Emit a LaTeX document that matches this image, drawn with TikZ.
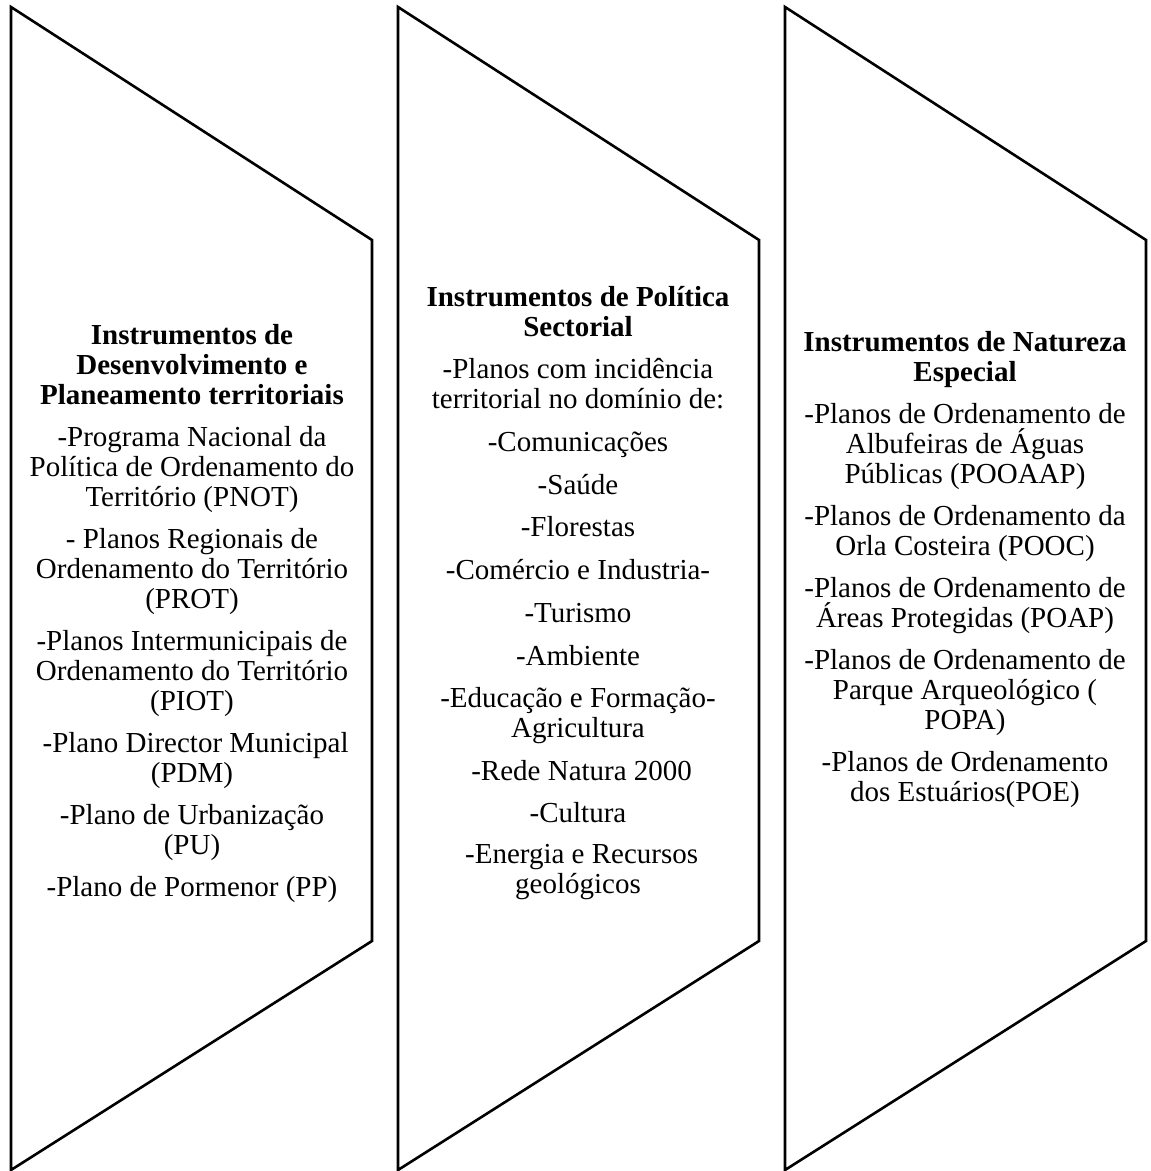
\documentclass[tikz,border=0pt]{standalone}
\usepackage{fontspec}
\setmainfont{Liberation Serif}
\usetikzlibrary{positioning}

\begin{document}
\begin{tikzpicture}[x=0.5pt, y=-0.5pt, node distance=6pt,
    panel/.style={draw, line width=1.3pt, line join=miter},
    txt/.style={align=center, inner sep=0pt, font=\fontsize{14.5pt}{15pt}\selectfont,
      execute at begin node=\strut, execute at end node=\strut},
    head/.style={txt, font=\fontsize{14.5pt}{15pt}\selectfont\bfseries}]
  \useasboundingbox (0,0) rectangle (1150,1171);
  \foreach \l in {11,398,785}
    \draw[panel] (\l,7) -- (\l+361,240) -- (\l+361,941) -- (\l,1170) -- cycle;

  \node[head, anchor=north] (tA) at (192,324) {Instrumentos de\\Desenvolvimento e\\Planeamento territoriais};
  \node[txt] (a1) [below=of tA] {-Programa Nacional da\\Política de Ordenamento do\\Território (PNOT)};
  \node[txt] (a2) [below=of a1] {- Planos Regionais de\\Ordenamento do Território\\(PROT)};
  \node[txt] (a3) [below=of a2] {-Planos Intermunicipais de\\Ordenamento do Território\\(PIOT)};
  \node[txt] (a4) [below=of a3] {\hspace*{.25em}-Plano Director Municipal\\(PDM)};
  \node[txt] (a5) [below=of a4] {-Plano de Urbanização\\(PU)};
  \node[txt] (a6) [below=of a5] {-Plano de Pormenor (PP)};

  \node[head, anchor=north] (tB) at (578,286) {Instrumentos de Política\\Sectorial};
  \node[txt] (b1) [below=of tB] {-Planos com incidência\\territorial no domínio de:};
  \node[txt] (b2) [below=of b1] {-Comunicações};
  \node[txt] (b3) [below=of b2] {-Saúde};
  \node[txt] (b4) [below=of b3] {-Florestas};
  \node[txt] (b5) [below=of b4] {-Comércio e Industria-};
  \node[txt] (b6) [below=of b5] {-Turismo};
  \node[txt] (b7) [below=of b6] {-Ambiente};
  \node[txt] (b8) [below=of b7] {-Educação e Formação-\\Agricultura};
  \node[txt] (b9) [below=of b8] {\hspace*{.25em}-Rede Natura 2000};
  \node[txt] (b10) [below=of b9] {-Cultura};
  \node[txt] (b11) [below=of b10] {\hspace*{.25em}-Energia e Recursos\\geológicos};

  \node[head, anchor=north] (tC) at (965,331) {Instrumentos de Natureza\\Especial};
  \node[txt] (c1) [below=of tC] {-Planos de Ordenamento de\\Albufeiras de Águas\\Públicas (POOAAP)};
  \node[txt] (c2) [below=of c1] {-Planos de Ordenamento da\\Orla Costeira (POOC)};
  \node[txt] (c3) [below=of c2] {-Planos de Ordenamento de\\Áreas Protegidas (POAP)};
  \node[txt] (c4) [below=of c3] {-Planos de Ordenamento de\\Parque Arqueológico (\\POPA)};
  \node[txt] (c5) [below=of c4] {-Planos de Ordenamento\\dos Estuários(POE)};
\end{tikzpicture}
\end{document}
